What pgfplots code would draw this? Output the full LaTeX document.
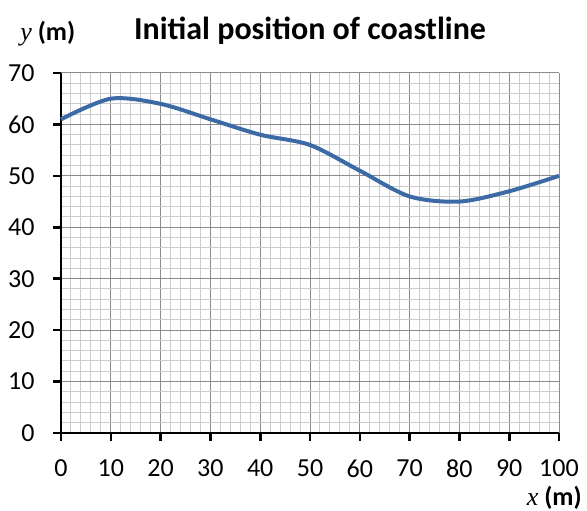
\documentclass[border=0pt]{standalone}
\usepackage{fontspec}
\setmainfont{Carlito}
\newfontfamily\serif{Liberation Serif}
\usepackage{pgfplots}
\pgfplotsset{compat=1.18}
\definecolor{lineblue}{HTML}{3C6AA5}
\begin{document}
\begin{tikzpicture}
\begin{axis}[
  scale only axis,
  width=249pt, height=180pt,
  xmin=0, xmax=100, ymin=0, ymax=70,
  xtick={0,10,...,100}, ytick={0,10,...,70},
  minor x tick num=4, minor y tick num=4,
  grid=both,
  major grid style={draw=black!45, line width=0.5pt},
  minor grid style={draw=black!20, line width=0.5pt},
  axis x line*=bottom, axis y line*=left,
  axis line style={black, line width=1.3pt, -},
  tick style={black, line width=1.3pt},
  minor tick length=0pt,
  major tick length=3.8pt,
  tick align=outside,
  ticklabel style={font=\fontsize{13}{15}\selectfont, inner sep=0pt},
  /pgf/number format/assume math mode=true,
  xticklabel style={anchor=north, yshift=-9.5pt},
  yticklabel style={anchor=east, xshift=-9.2pt},
  clip=false,
]
\addplot[lineblue, line width=2pt, smooth, tension=0.5] coordinates {
(0,61) (10,65) (20,64) (30,61) (40,58) (50,56) (60,51) (70,46) (80,45) (90,47) (100,50)
};
\coordinate (sw) at (rel axis cs:0,0);
\coordinate (ne) at (rel axis cs:1,1);
\node[anchor=base, font=\fontsize{16}{18}\selectfont\bfseries, inner sep=0pt] at ([yshift=16.5pt]rel axis cs:0.5,1) {Initial position of coastline};
\node[anchor=base west, font=\fontsize{13}{15}\selectfont, inner sep=0pt] at ([xshift=-20.5pt,yshift=16pt]rel axis cs:0,1) {{\serif\itshape y} \textbf{(m)}};
\node[anchor=base east, font=\fontsize{13}{15}\selectfont, inner sep=0pt] at ([xshift=11.5pt,yshift=-36.5pt]rel axis cs:1,0) {{\serif\itshape x} \textbf{(m)}};
\end{axis}
\pgfresetboundingbox
\path ([shift={(-30.5pt,-39pt)}]sw) rectangle ([shift={(14pt,36.5pt)}]ne);
\end{tikzpicture}
\end{document}
